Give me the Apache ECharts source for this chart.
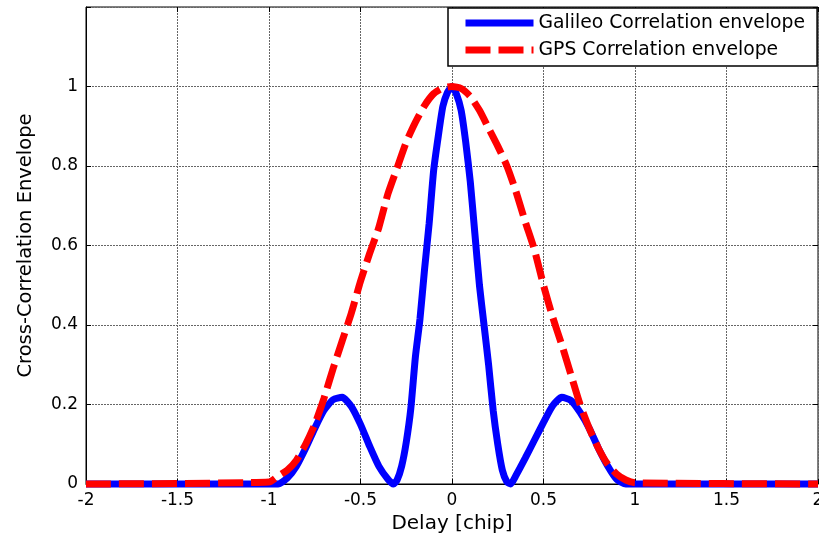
<!DOCTYPE html>
<html>
<head>
<meta charset="utf-8">
<title>Correlation envelope</title>
<script src="https://cdn.jsdelivr.net/npm/echarts@6/dist/echarts.min.js"></script>
<style>
  html, body { margin: 0; padding: 0; background: #fff; }
  #chart { width: 819px; height: 543px; }
</style>
</head>
<body>
<div id="chart"></div>
<script>
// delay axis (chip) and the two envelopes
const galileoDelay = [
  -2, -1, -0.95, -0.9, -0.85, -0.8, -0.75, -0.7, -0.65, -0.6, -0.55, -0.5, -0.45, -0.4, -0.35,
  -0.32, -0.3, -0.275, -0.25, -0.225, -0.2, -0.175, -0.15, -0.125, -0.1, -0.075, -0.05, -0.025,
  0,
  0.025, 0.05, 0.075, 0.1, 0.125, 0.15, 0.175, 0.2, 0.225, 0.25, 0.275, 0.3, 0.32,
  0.35, 0.4, 0.45, 0.5, 0.55, 0.6, 0.65, 0.7, 0.75, 0.8, 0.85, 0.9, 0.95, 1, 2
];
const galileoEnv = [
  0, 0, 0, 0.015, 0.045, 0.09, 0.14, 0.185, 0.212, 0.218, 0.195, 0.15, 0.095, 0.045, 0.012,
  0, 0.01, 0.045, 0.105, 0.19, 0.32, 0.415, 0.54, 0.655, 0.79, 0.875, 0.95, 0.985,
  1,
  0.98, 0.94, 0.86, 0.76, 0.63, 0.5, 0.4, 0.3, 0.185, 0.1, 0.035, 0.005, 0,
  0.022, 0.065, 0.11, 0.155, 0.197, 0.218, 0.21, 0.18, 0.14, 0.09, 0.046, 0.012, 0, 0, 0
];

const gpsDelay = [
  -2, -1, -0.95, -0.9, -0.85, -0.8, -0.75, -0.7, -0.65, -0.6, -0.55, -0.5, -0.45, -0.4, -0.35,
  -0.3, -0.25, -0.2, -0.15, -0.1, -0.05, 0,
  0.05, 0.1, 0.15, 0.2, 0.25, 0.3, 0.35, 0.4, 0.45, 0.5, 0.55, 0.6, 0.65, 0.7,
  0.75, 0.8, 0.85, 0.9, 0.95, 1, 2
];
const gpsEnv = [
  0, 0.005, 0.02, 0.035, 0.06, 0.1, 0.15, 0.215, 0.29, 0.36, 0.43, 0.51, 0.58, 0.645, 0.73,
  0.795, 0.86, 0.91, 0.952, 0.982, 0.996, 1,
  0.995, 0.975, 0.94, 0.895, 0.85, 0.8, 0.735, 0.66, 0.59, 0.5, 0.42, 0.35, 0.275, 0.2,
  0.14, 0.09, 0.05, 0.025, 0.01, 0.003, 0
];

const seriesNames = ["Galileo Correlation envelope", "GPS Correlation envelope"];
const xTicks = { min: -2, max: 2, step: 0.5 };
const yTicks = { min: 0, max: 1.2, step: 0.2, lastLabel: 1 };

const font = "DejaVu Sans";

function pairs(xs, ys) {
  return xs.map((x, i) => [x, ys[i]]);
}

const chart = echarts.init(document.getElementById("chart"));

// box axes on top / right: inward ticks only
const tickOnly = {
  axisLine: { show: false, onZero: false },
  axisLabel: { show: false },
  splitLine: { show: false },
  axisTick: { inside: true, length: 5, lineStyle: { color: "#000" } }
};

chart.setOption({
  backgroundColor: "#fff",
  animation: false,
  grid: {
    left: 86,
    right: 1,
    top: 7,
    bottom: 59,
    containLabel: false,
    outerBoundsMode: "none",
    show: true,
    borderColor: "#000",
    borderWidth: 1
  },
  legend: {
    orient: "vertical",
    left: 448,
    top: 8,
    padding: [5.5, 12, 6.5, 14],
    itemWidth: 68,
    itemHeight: 14,
    itemGap: 8,
    backgroundColor: "#fff",
    borderColor: "#000",
    borderWidth: 1.5,
    borderRadius: 0,
    textStyle: { fontFamily: font, fontSize: 18.8, color: "#000" },
    lineStyle: { width: 7 },
    itemStyle: { opacity: 0 },
    data: seriesNames
  },
  xAxis: [
    {
      type: "value",
      min: xTicks.min,
      max: xTicks.max,
      interval: xTicks.step,
      name: "Delay [chip]",
      nameLocation: "middle",
      nameGap: 27,
      nameTextStyle: { fontFamily: font, fontSize: 20, color: "#000" },
      axisLine: { onZero: false, lineStyle: { color: "#000", width: 1 } },
      axisTick: { inside: true, length: 5, lineStyle: { color: "#000" } },
      axisLabel: { fontFamily: font, fontSize: 17, color: "#000", margin: 8 },
      splitLine: { show: true, lineStyle: { color: "#666", type: [2, 1], width: 1 } }
    },
    Object.assign({ type: "value", position: "top", min: xTicks.min, max: xTicks.max, interval: xTicks.step }, tickOnly)
  ],
  yAxis: [
    {
      type: "value",
      min: yTicks.min,
      max: yTicks.max,
      interval: yTicks.step,
      name: "Cross-Correlation Envelope",
      nameLocation: "middle",
      nameGap: 50,
      nameTextStyle: { fontFamily: font, fontSize: 19.5, color: "#000" },
      axisLine: { onZero: false, lineStyle: { color: "#000", width: 1 } },
      axisTick: { inside: true, length: 5, lineStyle: { color: "#000" } },
      axisLabel: {
        fontFamily: font,
        fontSize: 17,
        color: "#000",
        margin: 8,
        formatter: v => (v > yTicks.lastLabel + 1e-6 ? "" : String(+v.toFixed(1)))
      },
      splitLine: { show: true, lineStyle: { color: "#666", type: [2, 1], width: 1 } }
    },
    Object.assign({ type: "value", position: "right", min: yTicks.min, max: yTicks.max, interval: yTicks.step }, tickOnly)
  ],
  series: [
    {
      name: seriesNames[0],
      type: "line",
      data: pairs(galileoDelay, galileoEnv),
      symbol: "none",
      smooth: 0.2,
      clip: false,
      lineStyle: { color: "#0000ff", width: 7 },
      itemStyle: { color: "#0000ff" }
    },
    {
      name: seriesNames[1],
      type: "line",
      data: pairs(gpsDelay, gpsEnv),
      symbol: "none",
      smooth: 0.2,
      clip: false,
      lineStyle: { color: "#ff0000", width: 7, type: [25, 8], cap: "butt" },
      itemStyle: { color: "#ff0000" }
    }
  ]
});
</script>
</body>
</html>
